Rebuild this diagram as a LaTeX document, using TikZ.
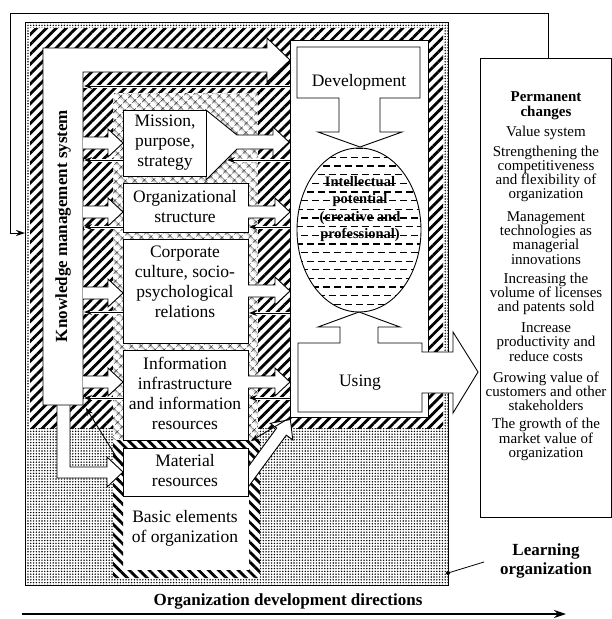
\documentclass[tikz,border=0pt]{standalone}
\usepackage{fontspec}
\setmainfont{Liberation Serif}
\usetikzlibrary{patterns.meta,arrows.meta}
\newcommand\fatR[3]{%
  \fill[white] (#1,#3-6) -- (#2-15,#3-6) -- (#2-15,#3-14) -- (#2,#3) -- (#2-15,#3+14) -- (#2-15,#3+6) -- (#1,#3+6) -- cycle;
  \draw[line width=0.9pt,line join=miter] (#1,#3-6) -- (#2-15,#3-6) -- (#2-15,#3-14) -- (#2,#3) -- (#2-15,#3+14) -- (#2-15,#3+6) -- (#1,#3+6);}
\newcommand\fbline[4]{%
  \coordinate (#4a) at (#1,#3); \coordinate (#4b) at (#2,#3);
  \draw[white,line width=3pt] (#4a) -- (#4b);
  \draw[fb] (#4a) -- (#4b);}
\begin{document}
\begin{tikzpicture}[x=1pt,y=-1pt,
  fat/.style={fill=white,draw=black,line width=0.9pt,line join=miter},
  boxs/.style={fill=white,draw=black,line width=0.9pt},
  fb/.style={line width=0.9pt,-{Stealth[length=8pt,width=6pt]}},
  boxtxt/.style={align=center,font=\fontsize{17.5}{20}\selectfont,inner sep=0pt},
  rtxt/.style={align=center,font=\fontsize{15}{14.2}\selectfont,inner sep=0pt},
  btxt/.style={align=center,font=\fontsize{17}{19.5}\selectfont\bfseries,inner sep=0pt}]
\useasboundingbox (0,0) rectangle (612,619);
% outer feedback line
\coordinate (rtop) at (548,58);
\coordinate (fbin) at (25,233);
\draw[line width=1pt,-{Stealth[length=9pt,width=6pt]}] (rtop) -- (548,13) -- (10,13) -- (10,233) -- (fbin);
% learning organization
\path[pattern={Dots[distance=2.8pt,radius=0.8pt]}] (25,22) rectangle (448,585);
\draw[line width=0.9pt] (25,22) rectangle (448,585);
% hatched frame
\fill[white] (30,28) rectangle (443,428);
\path[pattern={Lines[angle=45,distance=7pt,line width=2.8pt]}] (30,28) rectangle (443,428);
% crosshatch column
\fill[white] (113,93) rectangle (258,440);
\path[pattern={Hatch[angle=45,distance=6.5pt,line width=0.55pt]}] (113,93) rectangle (258,440);
% basic elements frame
\fill[white] (113,440) rectangle (260,578);
\path[even odd rule,pattern={Lines[angle=-45,distance=7pt,line width=2.8pt]}] (113,440) rectangle (260,578) (123,448) rectangle (249,570);
% white panel
\draw[boxs] (290,40) rectangle (428,417);
% development
\draw[fat] (297,47) -- (420,47) -- (420,98) -- (380,98) -- (380,132) -- (402,132) -- (360,147) -- (318,132) -- (339,132) -- (339,98) -- (297,98) -- cycle;
\node[boxtxt] (dev) at (359,82) {Development};
% ellipse
\begin{scope}
\clip (359,230) ellipse [x radius=62pt, y radius=82pt];
\foreach \k in {-4,-2,...,14} \draw[line width=1.3pt,dash pattern=on 7pt off 4pt] (290,{183.3+8.65*\k}) -- (430,{183.3+8.65*\k});
\foreach \k in {-3,-1,...,13} \draw[line width=1.3pt,dash pattern=on 7pt off 4pt] (295.5,{183.3+8.65*\k}) -- (430,{183.3+8.65*\k});
\end{scope}
\draw[line width=0.9pt] (359,230) ellipse [x radius=62pt, y radius=82pt];
\node[align=center,font=\fontsize{14.5}{17.3}\selectfont\bfseries,inner sep=0pt] (ip) at (360,209) {Intellectual\\potential\\(creative and\\professional)};
% using
\draw[fat] (298,343) -- (340,343) -- (340,327) -- (318,327) -- (359,312) -- (400,327) -- (378,327) -- (378,343) -- (422,343) -- (422,352) -- (453,352) -- (453,332) -- (478,372) -- (453,413) -- (453,393) -- (422,393) -- (422,412) -- (298,412) -- cycle;
\node[boxtxt] (using) at (360,383) {Using};
% material out arrow
\begin{scope}[shift={(243,484)},rotate=53.7]
\fatR{0}{80}{0}
\end{scope}
% mission funnel
\draw[fat] (206,110) -- (237,135) -- (273,135) -- (273,127) -- (289,142) -- (273,157) -- (273,149) -- (237,149) -- (206,180) -- cycle;
% inner boxes
\draw[boxs] (123,110) rectangle (206,176);
\node[boxtxt] (mis) at (165,143) {Mission,\\purpose,\\strategy};
\draw[boxs] (123,183) rectangle (248,232);
\node[boxtxt] (org) at (185,207) {Organizational\\structure};
\draw[boxs] (123,239) rectangle (248,343);
\node[boxtxt] (cc) at (185,282) {Corporate\\culture, socio-\\psychological\\relations};
\draw[boxs] (123,350) rectangle (248,440);
\node[boxtxt] (info) at (185,393) {Information\\infrastructure\\and information\\resources};
\draw[boxs] (123,448) rectangle (248,496);
\node[boxtxt] (mat) at (185,471) {Material\\resources};
\node[boxtxt] (basic) at (185,528) {Basic elements\\of organization};
% KMS
\draw[fat] (57,405) -- (57,478) -- (107,478) -- (107,487) -- (123,472) -- (107,457) -- (107,467) -- (70,467) -- (70,405);
\draw[fat] (43,48) -- (267,48) -- (267,38) -- (290,60) -- (267,82) -- (267,72) -- (83,72) -- (83,405) -- (43,405) -- cycle;
\node[btxt,rotate=90] (kms) at (63,226) {Knowledge management system};
% input arrows
\fatR{83}{123}{143}
\fatR{83}{123}{212}
\fatR{83}{123}{293}
\fatR{83}{123}{382}
% output arrows
\fatR{248}{290}{212}
\fatR{248}{290}{291}
\fatR{248}{290}{382}
% feedback lines
\fbline{290}{84}{86}{fa}
\fbline{123}{84}{160}{fb1}
\fbline{123}{84}{227}{fb2}
\fbline{123}{84}{312}{fb3}
\fbline{123}{84}{398}{fb4}
\fbline{290}{227}{160}{fr1}
\fbline{290}{249}{227}{fr2}
\fbline{290}{249}{313}{fr3}
\fbline{290}{249}{398}{fr4}
\coordinate (dm1) at (122,466); \coordinate (dm2) at (86,408);
\draw[fb] (dm1) -- (dm2);
\coordinate (dp1) at (291,417); \coordinate (dp2) at (251,441);
\draw[fb] (dp1) -- (dp2);
% right box
\draw[line width=1pt] (480,58) rectangle (611,517);
\node[rtxt,font=\fontsize{15}{15}\selectfont\bfseries] (pc) at (546,105.5) {Permanent\\changes};
\node[rtxt] (r1) at (546,133) {Value system};
\node[rtxt] (r2) at (546,174) {Strengthening the\\competitiveness\\and flexibility of\\organization};
\node[rtxt] (r3) at (546,238) {Management\\technologies as\\managerial\\innovations};
\node[rtxt] (r4) at (546,294) {Increasing the\\volume of licenses\\and patents sold};
\node[rtxt] (r5) at (546,342) {Increase\\productivity and\\reduce costs};
\node[rtxt] (r6) at (546,391) {Growing value of\\customers and other\\stakeholders};
\node[rtxt] (r7) at (546,439.5) {The growth of the\\market value of\\organization};
% learning organization label
\node[btxt] (lo) at (546,561) {Learning\\organization};
\coordinate (lodot) at (448,573);
\draw[line width=0.8pt] (484,562) -- (lodot);
\fill (lodot) circle (2pt);
% bottom
\node[btxt] (odd) at (288,601) {Organization development directions};
\coordinate (a1) at (22,614); \coordinate (a2) at (566,614);
\draw[line width=2pt,-{Stealth[length=12pt,width=8pt]}] (a1) -- (a2);
\end{tikzpicture}
\end{document}
